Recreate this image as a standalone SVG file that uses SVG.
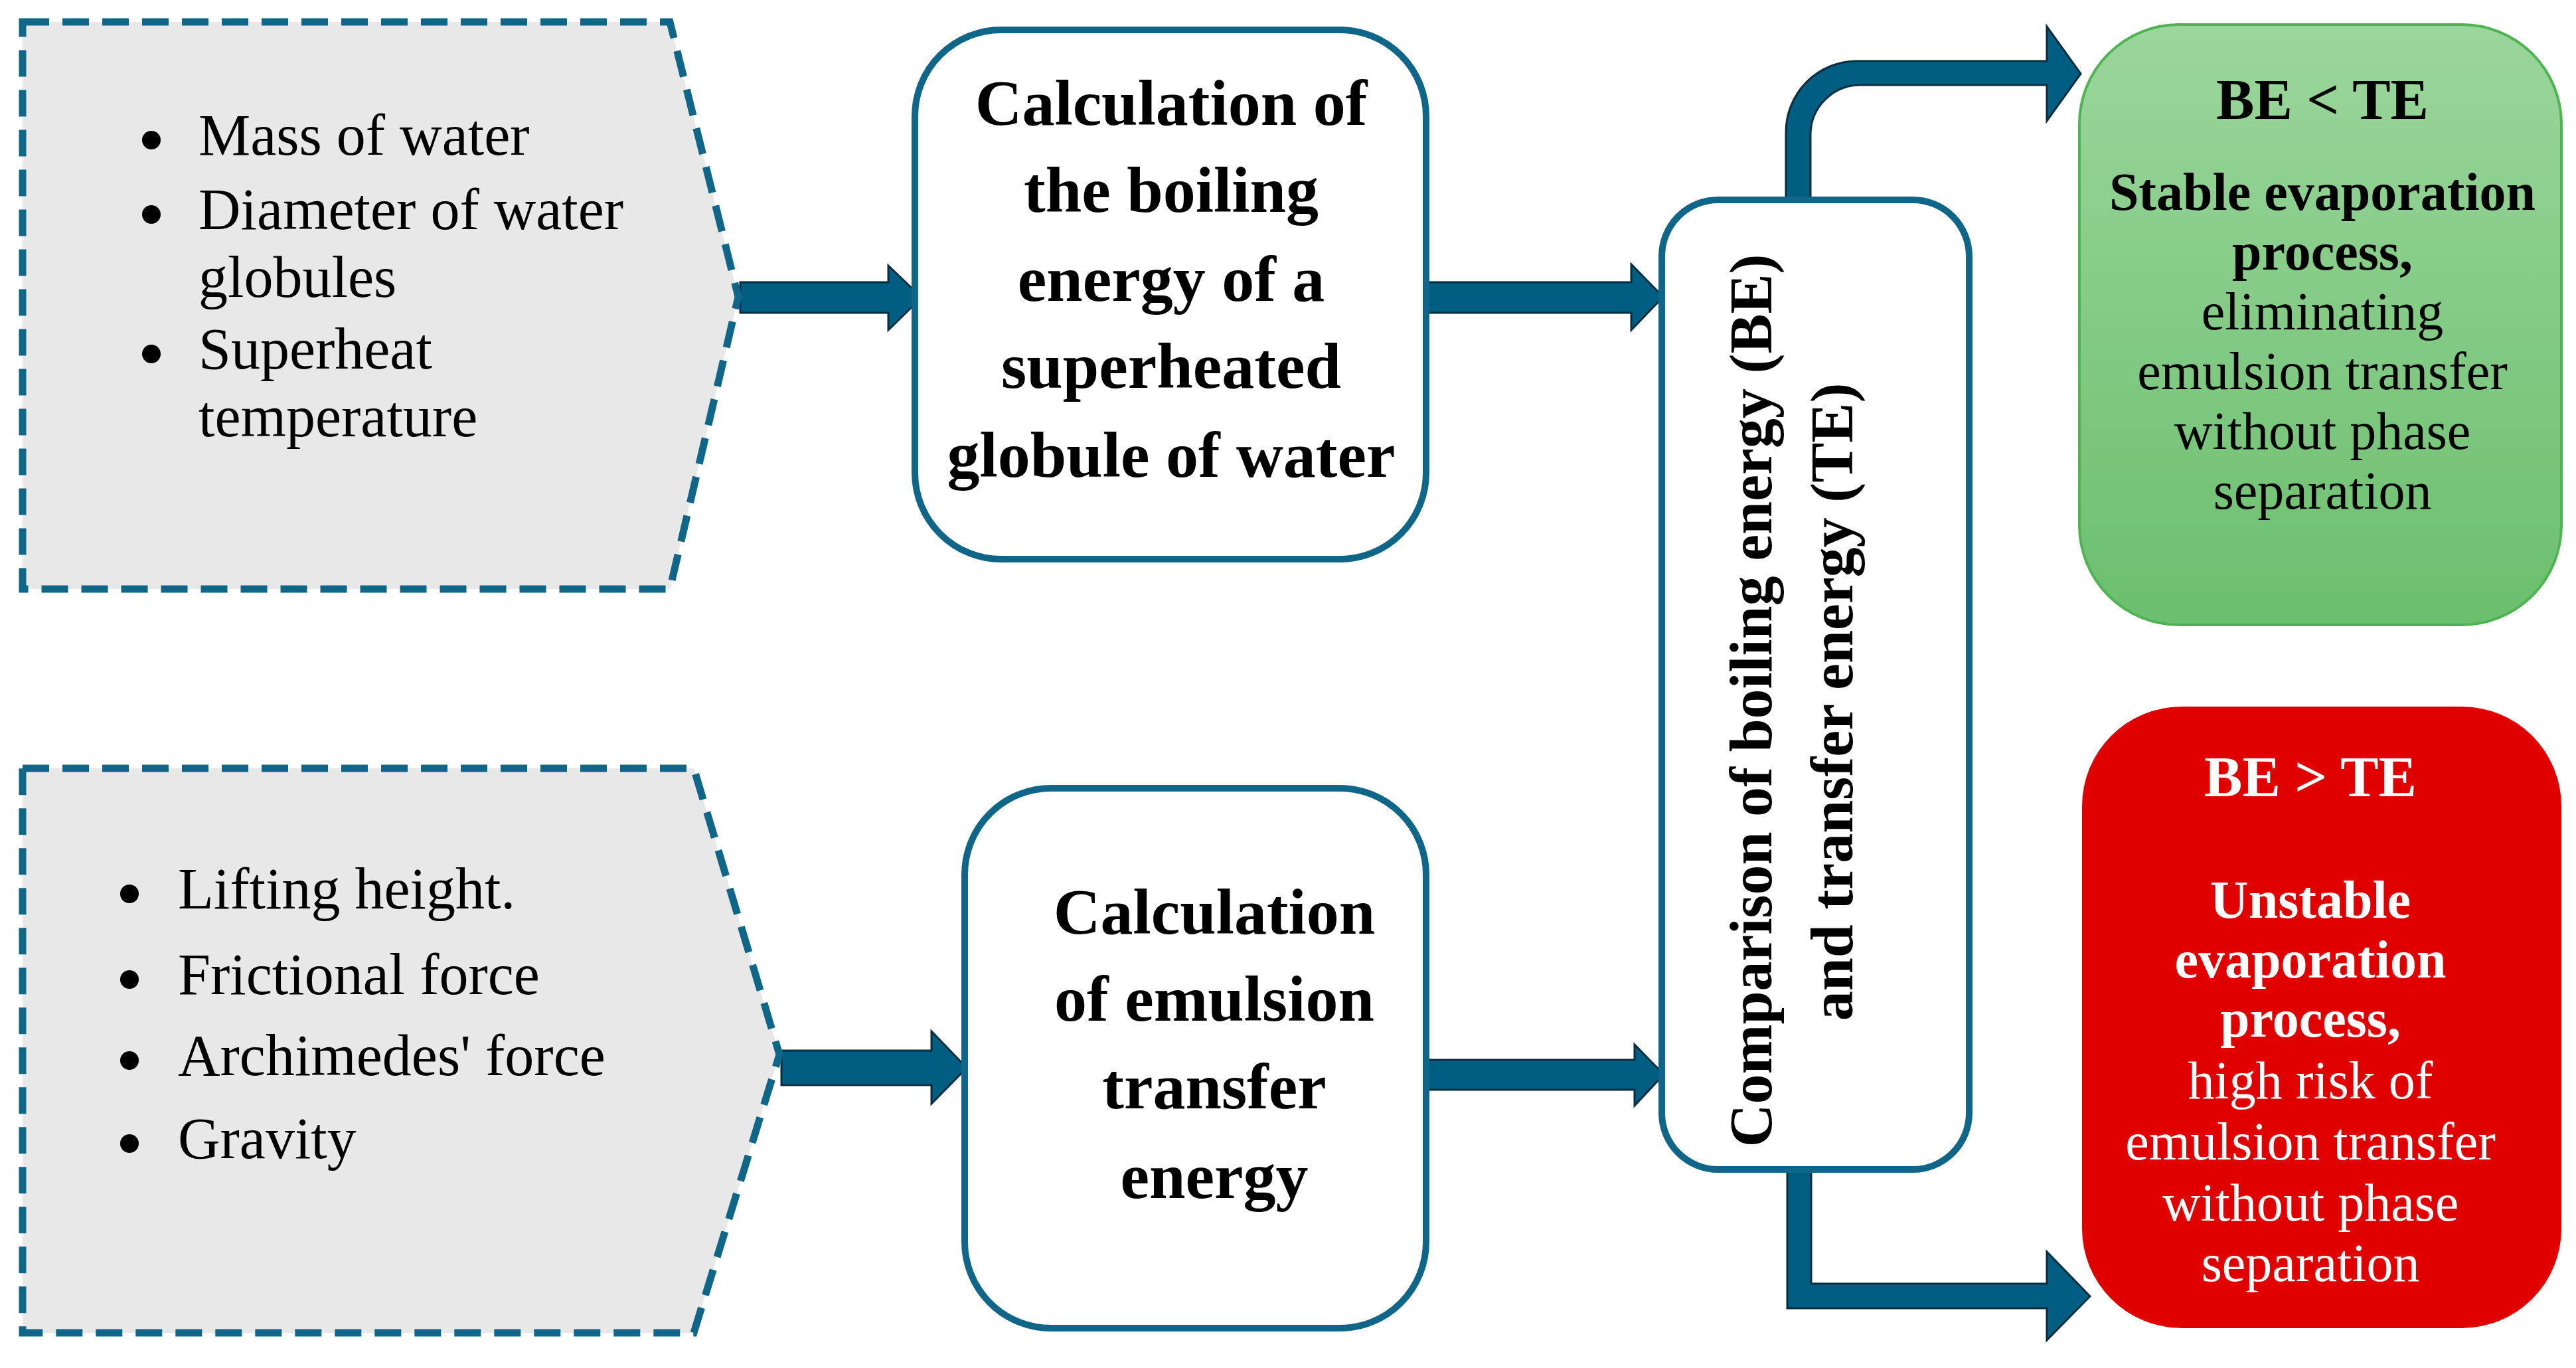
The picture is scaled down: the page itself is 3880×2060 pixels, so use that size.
<svg xmlns="http://www.w3.org/2000/svg" width="3880" height="2060" viewBox="0 0 3880 2060">
<defs>
<linearGradient id="gGreen" x1="0" y1="0" x2="0" y2="1">
<stop offset="0" stop-color="#9bd69c"/>
<stop offset="1" stop-color="#6bbf6e"/>
</linearGradient>
<style>
.inp{fill:#e8e8e8;stroke:#0f6689;stroke-width:11;stroke-dasharray:40 20;}
.box{fill:#ffffff;stroke:#0f6689;stroke-width:10;}
.arr{fill:#005e83;stroke:#0a2c3f;stroke-width:3;stroke-linejoin:miter;}
.lst{font-family:"Liberation Serif","Times New Roman",serif;font-size:88px;fill:#000;}
.bt{font-family:"Liberation Serif","Times New Roman",serif;font-size:98px;font-weight:bold;fill:#000;text-anchor:middle;}
.vt{font-family:"Liberation Serif","Times New Roman",serif;font-size:90px;font-weight:bold;fill:#000;text-anchor:middle;}
.rh{font-family:"Liberation Serif","Times New Roman",serif;font-size:86px;font-weight:bold;text-anchor:middle;}
.rb{font-family:"Liberation Serif","Times New Roman",serif;font-size:80px;font-weight:bold;text-anchor:middle;}
.rr{font-family:"Liberation Serif","Times New Roman",serif;font-size:80px;text-anchor:middle;}
.dot{fill:#000;}
</style>
</defs>
<rect width="3880" height="2060" fill="#ffffff"/>

<g id="connectors">
<polygon class="arr" points="1115,425 1338,425 1338,400 1388,448 1338,497 1338,471 1115,471"/>
<polygon class="arr" points="2150,425 2457,425 2457,398 2505,447 2457,497 2457,471 2150,471"/>
<polygon class="arr" points="1177,1582 1403,1582 1403,1553 1456,1608 1403,1662 1403,1634 1177,1634"/>
<polygon class="arr" points="2150,1596 2462,1596 2462,1573 2506,1618 2462,1665 2462,1641 2150,1641"/>
<path class="arr" d="M 2690,306 L 2690,199 A 107 107 0 0 1 2797,92 L 3083,92 L 3083,40 L 3134,111 L 3083,182 L 3083,128 L 2802,128 A 75 75 0 0 0 2727,203 L 2727,306 Z"/>
<path class="arr" d="M 2692,1758 L 2728,1758 L 2728,1933 L 3083,1933 L 3083,1885 L 3148,1952 L 3083,2018 L 3083,1970 L 2692,1970 Z"/>
</g>

<g id="input-boiling">
<polygon class="inp" points="34,33 1009,33 1112,447 1009,887 34,887"/>
<circle class="dot" cx="228" cy="211" r="14"/>
<circle class="dot" cx="228" cy="323" r="14"/>
<circle class="dot" cx="228" cy="533" r="14"/>
<text class="lst" x="299" y="233">Mass of water</text>
<text class="lst" x="299" y="345">Diameter of water</text>
<text class="lst" x="299" y="447">globules</text>
<text class="lst" x="299" y="555">Superheat</text>
<text class="lst" x="299" y="657">temperature</text>
</g>

<g id="input-transfer">
<polygon class="inp" points="34,1157 1045,1157 1174,1588 1045,2007 34,2007"/>
<circle class="dot" cx="195" cy="1346" r="14"/>
<circle class="dot" cx="195" cy="1475" r="14"/>
<circle class="dot" cx="195" cy="1597" r="14"/>
<circle class="dot" cx="195" cy="1722" r="14"/>
<text class="lst" x="268" y="1368">Lifting height.</text>
<text class="lst" x="268" y="1497">Frictional force</text>
<text class="lst" x="268" y="1619">Archimedes' force</text>
<text class="lst" x="268" y="1744">Gravity</text>
</g>

<g id="calc-boiling">
<rect class="box" x="1378" y="45" width="770" height="797" rx="130" ry="130"/>
<text class="bt" x="1764" y="188">Calculation of</text>
<text class="bt" x="1764" y="319">the boiling</text>
<text class="bt" x="1764" y="453">energy of a</text>
<text class="bt" x="1764" y="584">superheated</text>
<text class="bt" x="1764" y="718">globule of water</text>
</g>

<g id="calc-transfer">
<rect class="box" x="1453" y="1187" width="695" height="813" rx="130" ry="130"/>
<text class="bt" x="1829" y="1406">Calculation</text>
<text class="bt" x="1829" y="1537">of emulsion</text>
<text class="bt" x="1829" y="1669">transfer</text>
<text class="bt" x="1829" y="1804">energy</text>
</g>

<g id="comparison">
<rect class="box" x="2503" y="301" width="463" height="1460" rx="85" ry="85"/>
<text class="vt" transform="translate(2668,1055) rotate(-90)" x="0" y="0">Comparison of boiling energy (BE)</text>
<text class="vt" transform="translate(2790,1057) rotate(-90)" x="0" y="0">and transfer energy (TE)</text>
</g>

<g id="result-stable">
<rect x="3132" y="37" width="726" height="904" rx="150" ry="150" fill="url(#gGreen)" stroke="#4db451" stroke-width="4"/>
<text class="rh" x="3498" y="179" fill="#000">BE &lt; TE</text>
<text class="rb" x="3498" y="316" fill="#000">Stable evaporation</text>
<text class="rb" x="3498" y="406" fill="#000">process,</text>
<text class="rr" x="3498" y="496" fill="#000">eliminating</text>
<text class="rr" x="3498" y="586" fill="#000">emulsion transfer</text>
<text class="rr" x="3498" y="676" fill="#000">without phase</text>
<text class="rr" x="3498" y="766" fill="#000">separation</text>
</g>

<g id="result-unstable">
<rect x="3136" y="1064" width="722" height="936" rx="150" ry="150" fill="#e00000"/>
<text class="rh" x="3480" y="1199" fill="#ffffff">BE &gt; TE</text>
<text class="rb" x="3480" y="1382" fill="#ffffff">Unstable</text>
<text class="rb" x="3480" y="1472" fill="#ffffff">evaporation</text>
<text class="rb" x="3480" y="1561" fill="#ffffff">process,</text>
<text class="rr" x="3480" y="1654" fill="#ffffff">high risk of</text>
<text class="rr" x="3480" y="1746" fill="#ffffff">emulsion transfer</text>
<text class="rr" x="3480" y="1838" fill="#ffffff">without phase</text>
<text class="rr" x="3480" y="1929" fill="#ffffff">separation</text>
</g>
</svg>
